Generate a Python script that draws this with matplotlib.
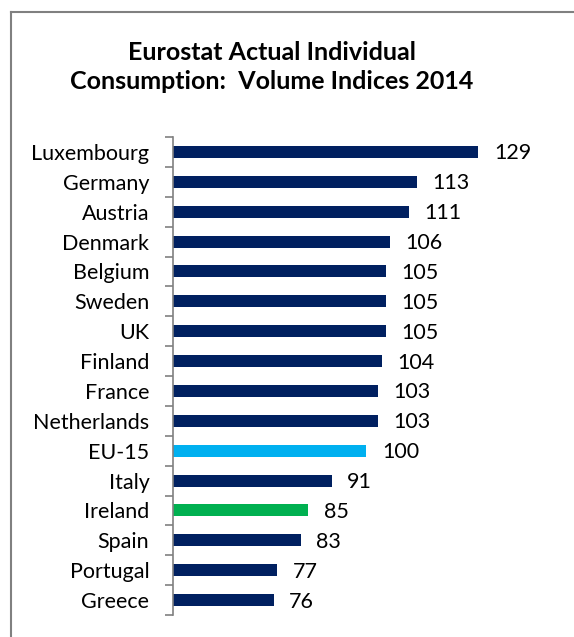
import matplotlib.pyplot as plt
from matplotlib.lines import Line2D
import numpy as np

# datos
countries = ['Luxembourg', 'Germany', 'Austria', 'Denmark', 'Belgium', 'Sweden', 'UK',
             'Finland', 'France', 'Netherlands', 'EU-15', 'Italy', 'Ireland', 'Spain',
             'Portugal', 'Greece']
values = [129, 113, 111, 106, 105, 105, 105, 104, 103, 103, 100, 91, 85, 83, 77, 76]

navy = '#002060'
special = {'EU-15': '#00B0F0', 'Ireland': '#00B050'}
colors = [special.get(c, navy) for c in countries]

plt.rcParams['font.family'] = ['Lato', 'DejaVu Sans']

fig = plt.figure(figsize=(5.74, 6.37), dpi=100)
ax = fig.add_axes([173 / 574, 1 - 615 / 637, 348 / 574, 478 / 637])

y = np.arange(len(countries))[::-1]
ax.barh(y, [v - 50 for v in values], left=50, height=0.4, color=colors)
for yi, v in zip(y, values):
    ax.text(v + 4.0, yi - 0.05, str(v), va='center', ha='left', fontsize=15.5)

ax.set_xlim(50, 140)
ax.set_ylim(-0.5, len(countries) - 0.5)
ax.set_yticks(y)
ax.set_yticklabels(countries, fontsize=15.5)
ax.set_yticks(np.arange(-0.5, len(countries), 1), minor=True)
ax.tick_params(axis='y', which='major', length=0, pad=17)
ax.tick_params(axis='y', which='minor', length=6, color='#808080', width=1.2)
ax.set_xticks([])
for s in ['top', 'right', 'bottom']:
    ax.spines[s].set_visible(False)
ax.spines['left'].set_color('#808080')
ax.spines['left'].set_linewidth(1.2)

fig.text(272 / 574, 1 - 67 / 637, 'Eurostat Actual Individual\nConsumption:  Volume Indices 2014',
         ha='center', va='center', fontsize=18, fontweight='bold', linespacing=1.35)

# marco
fig.add_artist(Line2D([11 / 574, 11 / 574], [0, 1 - 12 / 637], color='#808080', lw=1.5,
                      transform=fig.transFigure))
fig.add_artist(Line2D([11 / 574, 1], [1 - 12 / 637, 1 - 12 / 637], color='#808080', lw=1.5,
                      transform=fig.transFigure))

fig.savefig('out.png', dpi=100)
